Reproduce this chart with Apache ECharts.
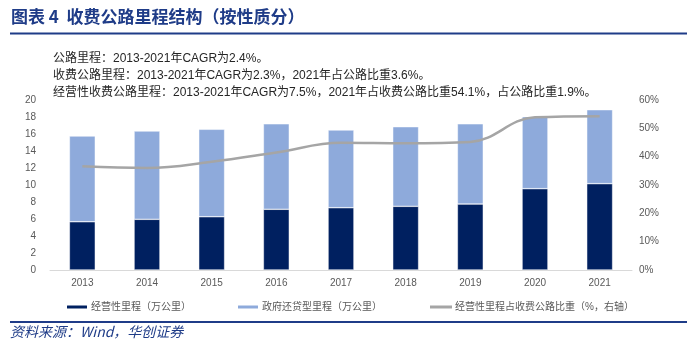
<!DOCTYPE html>
<html>
<head>
<meta charset="utf-8">
<script src="https://cdn.jsdelivr.net/npm/echarts@6/dist/echarts.min.js"></script>
<style>html,body{margin:0;padding:0;background:#fff;}#c{width:700px;height:347px;}</style>
</head>
<body>
<div id="c"></div>
<script>
var years = ['2013','2014','2015','2016','2017','2018','2019','2020','2021'];
var operating = [5.68, 5.96, 6.27, 7.14, 7.33, 7.49, 7.76, 9.57, 10.16];
var totalToll = [15.76, 16.35, 16.55, 17.2, 16.47, 16.86, 17.2, 18.04, 18.86];
var government = totalToll.map(function (t, i) { return +(t - operating[i]).toFixed(2); });
var sharePct = [36.6, 36.0, 38.2, 41.5, 44.9, 44.7, 45.2, 53.9, 54.3];
var seriesNames = ['经营性里程（万公里）', '政府还贷型里程（万公里）', '经营性里程占收费公路比重（%，右轴）'];
var notes = [
  '公路里程：2013-2021年CAGR为2.4%。',
  '收费公路里程：2013-2021年CAGR为2.3%，2021年占公路比重3.6%。',
  '经营性收费公路里程：2013-2021年CAGR为7.5%，2021年占收费公路比重54.1%，占公路比重1.9%。'
];
var titleText = '图表 4  收费公路里程结构（按性质分）';
var sourceText = '资料来源：Wind，华创证券';

var FONT = '"Liberation Sans", "Noto Sans CJK SC", sans-serif';
var chart = echarts.init(document.getElementById('c'), null, {renderer: 'canvas'});
var legendBase = {
  top: 297, itemWidth: 22, itemHeight: 5, itemGap: 0,
  textStyle: {fontSize: 10, color: '#595959', fontFamily: FONT, padding: [0, 0, 0, -2]}
};
chart.setOption({
  animation: false,
  textStyle: {fontFamily: FONT},
  grid: {left: 50, right: 68, top: 100, bottom: 77, containLabel: false},
  legend: [
    Object.assign({}, legendBase, {left: 60, data: [seriesNames[0]]}),
    Object.assign({}, legendBase, {left: 231, data: [seriesNames[1]]}),
    Object.assign({}, legendBase, {left: 425, data: [{name: seriesNames[2], icon: 'rect', itemStyle: {color: '#A5A5A5'}}], itemHeight: 3})
  ],
  xAxis: {
    type: 'category', data: years,
    axisLine: {lineStyle: {color: '#D9D9D9', width: 1}},
    axisTick: {show: false},
    axisLabel: {color: '#595959', fontSize: 10, margin: 8}
  },
  yAxis: [
    {type: 'value', min: 0, max: 20, interval: 2,
     axisLine: {show: false}, axisTick: {show: false}, splitLine: {show: false},
     axisLabel: {color: '#595959', fontSize: 10, margin: 14}},
    {type: 'value', min: 0, max: 60, interval: 10,
     axisLine: {show: false}, axisTick: {show: false}, splitLine: {show: false},
     axisLabel: {color: '#595959', fontSize: 10, margin: 7, formatter: '{value}%'}}
  ],
  series: [
    {name: seriesNames[0], type: 'bar', stack: 's', data: operating, barWidth: '40%',
     itemStyle: {color: '#002060', borderColor: '#ffffff', borderWidth: 0.5}},
    {name: seriesNames[1], type: 'bar', stack: 's', data: government, barWidth: '40%',
     itemStyle: {color: '#8EAADB', borderColor: '#ffffff', borderWidth: 0.5}},
    {name: seriesNames[2], type: 'line', yAxisIndex: 1, data: sharePct, smooth: 0.4,
     symbol: 'none', lineStyle: {color: '#A5A5A5', width: 2.5}, itemStyle: {color: '#A5A5A5'}, z: 5}
  ],
  graphic: [
    {type: 'text', left: 11, top: 8, style: {text: titleText, font: 'bold 17px "Noto Sans CJK SC", sans-serif', fill: '#1F3C88'}},
    {type: 'rect', shape: {x: 10, y: 32.5, width: 677, height: 2}, style: {fill: '#1F3C88'}},
    {type: 'text', left: 53, top: 53, style: {text: notes[0], font: '12px ' + FONT, fill: '#262626'}},
    {type: 'text', left: 53, top: 70, style: {text: notes[1], font: '12px ' + FONT, fill: '#262626'}},
    {type: 'text', left: 53, top: 87, style: {text: notes[2], font: '12px ' + FONT, fill: '#262626'}},
    {type: 'rect', shape: {x: 10, y: 321, width: 677, height: 2}, style: {fill: '#1F3C88'}},
    {type: 'text', left: 10, top: 325, style: {text: sourceText, font: 'italic 14px "Noto Sans CJK SC", sans-serif', fill: '#1F3C88'}}
  ]
});
</script>
</body>
</html>
